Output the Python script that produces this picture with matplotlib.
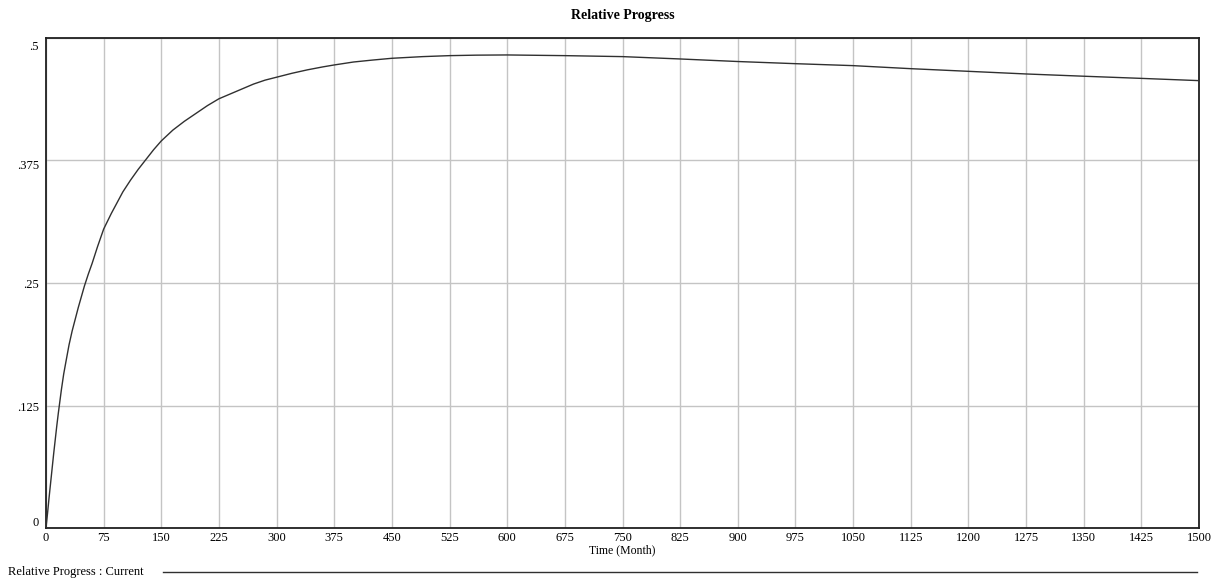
import matplotlib
matplotlib.use("Agg")
import matplotlib.pyplot as plt
from matplotlib.lines import Line2D
from matplotlib.transforms import ScaledTranslation

# ---- data ----
time_month = [0, 2, 4, 6, 8, 10, 12, 14, 16, 18, 20, 23, 26, 30, 34, 38, 42,
              46, 50, 55, 60, 67, 75, 85, 100, 110, 120, 130, 140, 150, 165,
              180, 195, 210, 225, 240, 255, 270, 285, 300, 320, 340, 360, 375,
              400, 425, 450, 490, 525, 560, 600, 675, 750, 825, 900, 975,
              1050, 1125, 1200, 1275, 1350, 1425, 1500]
relative_progress = [0.0, 0.015, 0.031, 0.046, 0.061, 0.076, 0.09, 0.104,
                     0.117, 0.129, 0.141, 0.157, 0.17, 0.187, 0.201, 0.213,
                     0.225, 0.236, 0.247, 0.259, 0.27, 0.287, 0.305, 0.321,
                     0.343, 0.355, 0.366, 0.376, 0.386, 0.395, 0.406, 0.415,
                     0.423, 0.431, 0.438, 0.443, 0.448, 0.453, 0.457, 0.46,
                     0.464, 0.4675, 0.4705, 0.4725, 0.4755, 0.4775, 0.4793,
                     0.481, 0.482, 0.4825, 0.4827, 0.482, 0.481, 0.4786,
                     0.476, 0.4738, 0.4718, 0.4687, 0.466, 0.4633, 0.461,
                     0.4588, 0.4565]
x_ticks = list(range(0, 1501, 75))
y_ticks = [0, 0.125, 0.25, 0.375, 0.5]
y_tick_labels = ["0", ".125", ".25", ".375", ".5"]

W, H = 1220, 581
fig = plt.figure(figsize=(W / 100, H / 100), dpi=100)
serif = ["Liberation Serif", "DejaVu Serif"]

ax = fig.add_axes([46 / W, 1 - 528 / H, (1199 - 46) / W, (528 - 38) / H])
ax.plot(time_month, relative_progress, color="#303030", lw=1.0, zorder=3)

ax.set_xlim(0, 1500)
ax.set_ylim(0, 0.5)
ax.set_xticks(x_ticks)
ax.set_xticklabels([str(v) for v in x_ticks], fontfamily=serif, fontsize=9)
ax.set_yticks(y_ticks)
ax.set_yticklabels(y_tick_labels, fontfamily=serif, fontsize=9)
ax.tick_params(axis="both", length=0, pad=5)
ax.tick_params(axis="x", pad=3)
ax.grid(True, color="#c4c4c4", lw=1.0)
ax.set_axisbelow(True)
for s in ax.spines.values():
    s.set_color("#202020")
    s.set_linewidth(1.3)

# Vensim-style y label offsets (labels sit inside the range)
offsets_px = {0: 7, 0.125: -1, 0.25: -1, 0.375: -4, 0.5: -8}
for val, lab in zip(y_ticks, ax.get_yticklabels()):
    dy = offsets_px[val]
    lab.set_transform(lab.get_transform() + ScaledTranslation(0, dy / 100, fig.dpi_scale_trans))

ax.set_title("Relative Progress", fontfamily=serif, fontsize=10, fontweight="bold", pad=14)
ax.set_xlabel("Time (Month)", fontfamily=serif, fontsize=8.5, labelpad=0)

# legend line at bottom
fig.text(8 / W, 1 - 572 / H, "Relative Progress : Current", fontfamily=serif,
         fontsize=9, va="center", ha="left")
fig.add_artist(Line2D([163 / W, 1197 / W], [1 - 572 / H, 1 - 572 / H],
                      transform=fig.transFigure, color="#303030", lw=1.0))

fig.savefig("out.png", dpi=100)
